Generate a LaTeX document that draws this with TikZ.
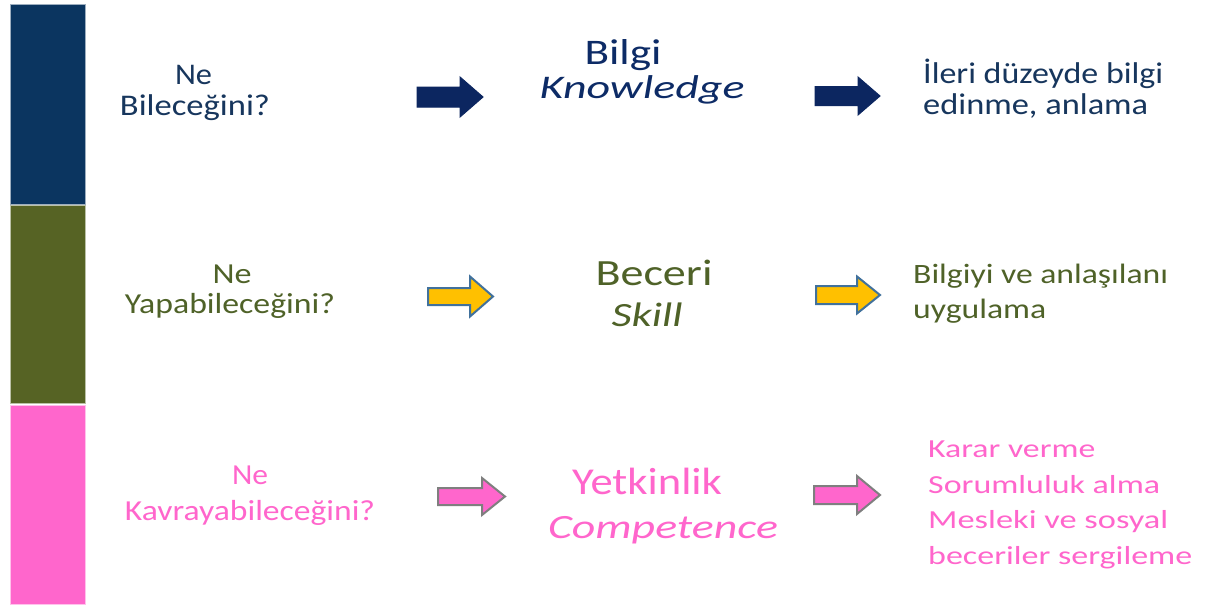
\documentclass[tikz,border=0pt]{standalone}
\usepackage{fontspec}
\setmainfont{Carlito}
\usepackage{graphicx}
\definecolor{navybar}{HTML}{0B3560}
\definecolor{olivebar}{HTML}{566324}
\definecolor{pinkbar}{HTML}{FF66CC}
\definecolor{navytxt}{HTML}{17365D}
\definecolor{navydark}{HTML}{0D2B66}
\definecolor{olivetxt}{HTML}{4F6228}
\definecolor{pinktxt}{HTML}{FF66CC}
\definecolor{arrnavy}{HTML}{0C2660}
\definecolor{arryellow}{HTML}{FFC000}
\definecolor{arrblue}{HTML}{41719C}
\definecolor{arrgray}{HTML}{7F7F7F}
\newcommand\txt[3]{\resizebox{#1pt}{\height}{\fontsize{#2}{#2}\selectfont #3}}
\newcommand\itxt[3]{\resizebox{#1pt}{\height}{\fontsize{#2}{#2}\selectfont\itshape #3}}
% block arrow: x-start, head-start, tip, y-center, shaft half, head half
\newcommand\blockarrow[7]{%
  \draw[#7] (#1,#4-#5) -- (#2,#4-#5) -- (#2,#4-#6) -- (#3,#4) -- (#2,#4+#6) -- (#2,#4+#5) -- (#1,#4+#5) -- cycle;}
\tikzset{
  bar/.style={line width=0.8pt},
  lbl/.style={inner sep=0pt, anchor=base},
  lblw/.style={inner sep=0pt, anchor=base west},
  navyarrow/.style={fill=arrnavy, draw=arrnavy, line width=1pt, line join=miter},
  yellowarrow/.style={fill=arryellow, draw=arrblue, line width=2pt, line join=miter},
  pinkarrow/.style={fill=pinkbar, draw=arrgray, line width=2pt, line join=miter},
}
\begin{document}
\begin{tikzpicture}[x=1pt,y=-1pt]
\useasboundingbox (0,0) rectangle (1208,605);
\fill[white] (0,0) rectangle (1208,605);
% bars
\fill[navybar, draw=navybar!40!white, bar] (10,4) rectangle (85,204);
\fill[olivebar, draw=olivebar!40!white, bar] (10,205) rectangle (85,403);
\fill[pinkbar, draw=pinkbar!40!white, bar] (10,405) rectangle (85,604);
% row 1
\node[lbl, text=navytxt] (ne1) at (193.5,84) {\txt{37}{30}{Ne}};
\node[lbl, text=navytxt] (q1) at (195,115) {\txt{150}{30}{Bileceğini?}};
\node[lbl, text=navydark] (bilgi) at (623,64) {\txt{77}{36}{Bilgi}};
\node[lbl, text=navydark] (know) at (642,98) {\itxt{205}{33}{Knowledge}};
\node[lblw, text=navytxt] (r1a) at (923,83) {\txt{240}{30}{İleri düzeyde bilgi}};
\node[lblw, text=navytxt] (r1b) at (923,114) {\txt{225}{30}{edinme, anlama}};
\blockarrow{417}{460}{483}{97}{10}{20}{navyarrow}
\blockarrow{815}{858}{880}{96}{9.5}{19}{navyarrow}
% row 2
\node[lbl, text=olivetxt] (ne2) at (232,283) {\txt{39}{29}{Ne}};
\node[lbl, text=olivetxt] (q2) at (230,313) {\txt{210}{29}{Yapabileceğini?}};
\node[lbl, text=olivetxt] (beceri) at (654,285) {\txt{117}{37}{Beceri}};
\node[lbl, text=olivetxt] (skill) at (647,326) {\itxt{71}{34}{Skill}};
\node[lblw, text=olivetxt] (r2a) at (913,283) {\txt{255}{28}{Bilgiyi ve anlaşılanı}};
\node[lblw, text=olivetxt] (r2b) at (913,318) {\txt{133}{28}{uygulama}};
\blockarrow{428}{470}{493}{296.5}{8.5}{20}{yellowarrow}
\blockarrow{816}{857}{880}{295}{9}{18.5}{yellowarrow}
% row 3
\node[lbl, text=pinktxt] (ne3) at (250,484) {\txt{36}{29}{Ne}};
\node[lbl, text=pinktxt] (q3) at (250,520) {\txt{250}{29}{Kavrayabileceğini?}};
\node[lbl, text=pinktxt] (yet) at (647,494) {\txt{150}{38}{Yetkinlik}};
\node[lbl, text=pinktxt] (comp) at (663,538) {\itxt{230}{34}{Competence}};
\node[lblw, text=pinktxt] (l1) at (928,457.5) {\txt{167}{26}{Karar verme}};
\node[lblw, text=pinktxt] (l2) at (928,493) {\txt{232}{26}{Sorumluluk alma}};
\node[lblw, text=pinktxt] (l3) at (928,528.5) {\txt{240}{26}{Mesleki ve sosyal}};
\node[lblw, text=pinktxt] (l4) at (928,564) {\txt{264}{26}{beceriler sergileme}};
\blockarrow{438}{482}{505}{496.5}{8.5}{18.5}{pinkarrow}
\blockarrow{814}{857}{880}{495}{9}{19}{pinkarrow}
\end{tikzpicture}
\end{document}
